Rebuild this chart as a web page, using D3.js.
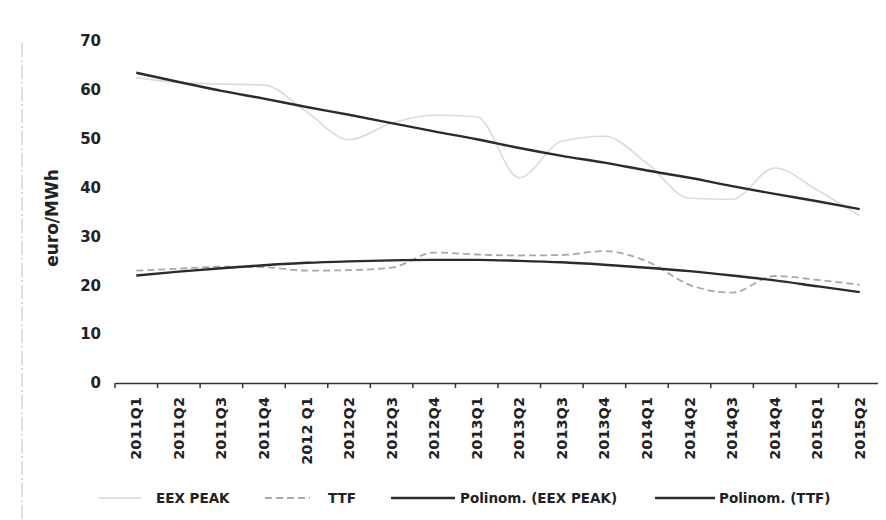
<svg width="886" height="520" font-family="DejaVu Sans" font-size="14" font-weight="bold"></svg>

<script src="https://d3js.org/d3.v7.min.js"></script>

<script>
var quarters = ["2011Q1","2011Q2","2011Q3","2011Q4","2012 Q1","2012Q2","2012Q3","2012Q4","2013Q1",
                "2013Q2","2013Q3","2013Q4","2014Q1","2014Q2","2014Q3","2014Q4","2015Q1","2015Q2"];
var eexPeak = [62.5,61.5,61.2,61.0,55.5,49.8,53.2,54.8,54.5,42.0,49.5,50.5,45.0,37.8,37.6,44.0,39.5,34.2];
var ttf     = [23.0,23.4,23.8,23.7,23.0,23.1,23.6,26.7,26.3,26.1,26.2,27.0,24.9,20.1,18.5,21.9,21.1,20.1];
var eexTrend = [63.5,61.6,59.8,58.2,56.5,54.9,53.2,51.5,49.9,48.1,46.5,45.1,43.5,42.0,40.3,38.7,37.2,35.6];
var ttfTrend = [22.0,22.8,23.5,24.1,24.6,24.9,25.1,25.2,25.2,25.0,24.7,24.2,23.6,22.9,22.0,21.0,19.8,18.6];
var yTicks = [0,10,20,30,40,50,60,70];

var svg = d3.select("svg"),
    width = +svg.attr("width"),
    height = +svg.attr("height");

svg.append("rect").attr("width", width).attr("height", height).attr("fill", "#fff");

// faint scan edge on the left
svg.append("line")
    .attr("x1", 14).attr("x2", 14).attr("y1", 35).attr("y2", 520)
    .attr("stroke", "#d4d4d4").attr("stroke-width", 1.5)
    .attr("stroke-dasharray", "14,3,2,3");

var x = d3.scaleBand().domain(quarters).range([107, 873]);
var y = d3.scaleLinear().domain([0, 70]).range([375, 33]);
var cx = function(d, i) { return x(quarters[i]) + x.bandwidth() / 2; };

// y labels
svg.append("g").selectAll("text")
    .data(yTicks)
    .enter().append("text")
      .attr("x", 93)
      .attr("y", function(d) { return y(d); })
      .attr("dy", "0.35em")
      .attr("text-anchor", "end")
      .attr("fill", "#222")
      .attr("font-size", 15)
      .text(function(d) { return d; });

svg.append("text")
    .attr("transform", "translate(50,210) rotate(-90)")
    .attr("text-anchor", "middle")
    .attr("fill", "#222")
    .attr("font-size", 17)
    .text("euro/MWh");

// x axis
var xAxis = svg.append("g")
    .attr("transform", "translate(0," + y(0) + ")")
    .call(d3.axisBottom(x).tickSize(0).tickPadding(14));
xAxis.select(".domain").attr("stroke", "#333").attr("stroke-width", 1.5);
xAxis.selectAll("text")
    .attr("transform", "rotate(-90)")
    .attr("text-anchor", "end")
    .attr("x", -14).attr("y", 0).attr("dy", "0.35em")
    .attr("fill", "#222")
    .attr("font-size", 14.5)
    .attr("font-family", "DejaVu Sans").attr("font-weight", "bold");
xAxis.selectAll(".sep")
    .data(quarters.concat(["end"]))
    .enter().append("line")
      .attr("x1", function(d, i) { return 107 + i * x.step(); })
      .attr("x2", function(d, i) { return 107 + i * x.step(); })
      .attr("y1", 0).attr("y2", 5)
      .attr("stroke", "#333").attr("stroke-width", 1.5);

var line = d3.line()
    .x(cx)
    .y(function(d) { return y(d); })
    .curve(d3.curveMonotoneX);

svg.append("path").datum(eexPeak)
    .attr("d", line).attr("fill", "none")
    .attr("stroke", "#dadada").attr("stroke-width", 1.6);

svg.append("path").datum(ttf)
    .attr("d", line).attr("fill", "none")
    .attr("stroke", "#a8a8a8").attr("stroke-width", 1.8)
    .attr("stroke-dasharray", "7,4");

svg.append("path").datum(eexTrend)
    .attr("d", line).attr("fill", "none")
    .attr("stroke", "#2b2b2b").attr("stroke-width", 2.4);

svg.append("path").datum(ttfTrend)
    .attr("d", line).attr("fill", "none")
    .attr("stroke", "#2b2b2b").attr("stroke-width", 2.4);

// legend
var legendItems = [
  {name: "EEX PEAK", x1: 90, x2: 133, tx: 148, color: "#d6d6d6", w: 1.6, dash: null},
  {name: "TTF", x1: 257, x2: 302, tx: 320, color: "#a8a8a8", w: 1.8, dash: "7,4"},
  {name: "Polinom. (EEX PEAK)", x1: 383, x2: 447, tx: 452, color: "#2b2b2b", w: 2.4, dash: null},
  {name: "Polinom. (TTF)", x1: 647, x2: 707, tx: 711, color: "#2b2b2b", w: 2.4, dash: null}
];
var legend = svg.selectAll(".legend")
    .data(legendItems)
    .enter().append("g")
      .attr("class", "legend")
      .attr("transform", "translate(0,490)");
legend.append("line")
    .attr("x1", function(d) { return d.x1; })
    .attr("x2", function(d) { return d.x2; })
    .attr("stroke", function(d) { return d.color; })
    .attr("stroke-width", function(d) { return d.w; })
    .attr("stroke-dasharray", function(d) { return d.dash; });
legend.append("text")
    .attr("x", function(d) { return d.tx; })
    .attr("dy", "0.35em")
    .attr("fill", "#222")
    .attr("font-size", 13.5)
    .text(function(d) { return d.name; });
</script>
